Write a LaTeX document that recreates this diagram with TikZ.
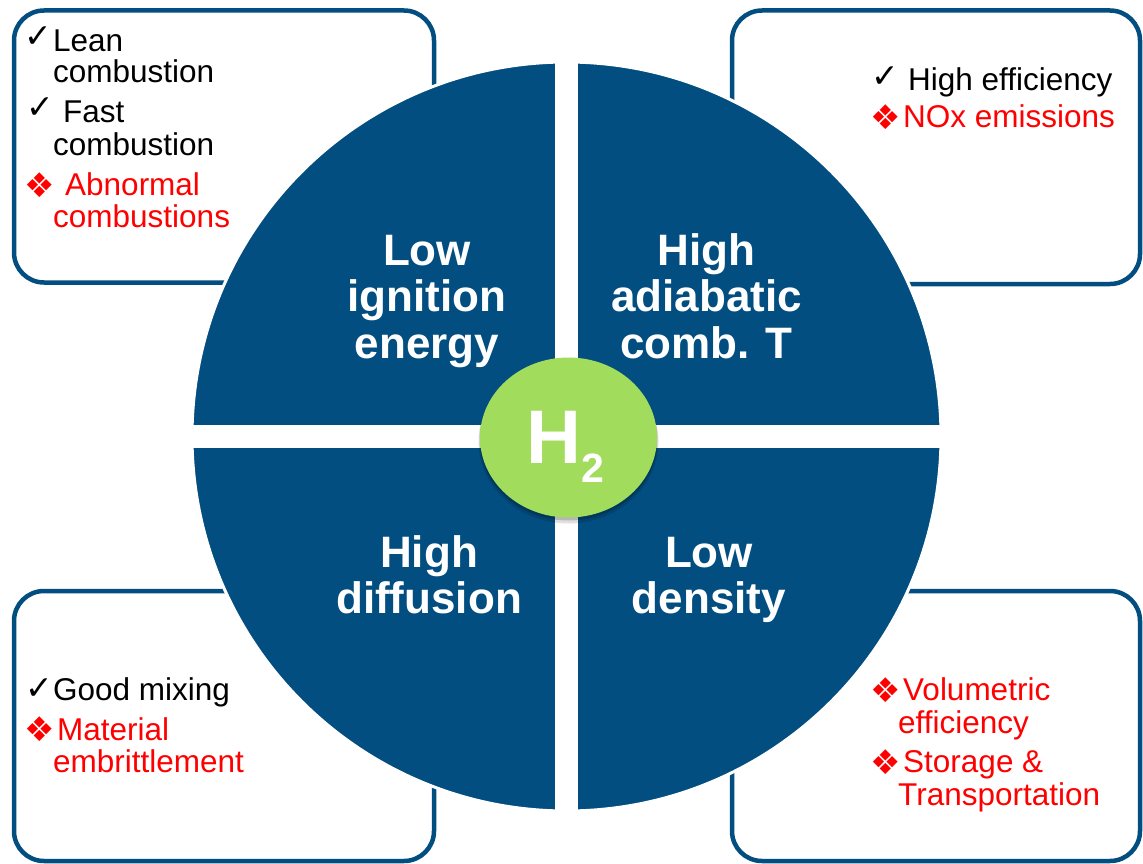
\documentclass[tikz,border=0pt]{standalone}
\usepackage{fontspec}
\setmainfont{Liberation Sans}
\newfontfamily\symfont{DejaVu Sans}

\definecolor{qblue}{RGB}{3,78,128}
\definecolor{badred}{RGB}{255,0,0}
\definecolor{gin}{RGB}{162,220,92}
\definecolor{gmid}{RGB}{150,211,80}
\definecolor{gedge}{RGB}{118,168,58}

% flat green disc with a darker bevelled rim
\pgfdeclareradialshading{hbevel}{\pgfpoint{0bp}{0bp}}{%
  color(0bp)=(gin); color(40bp)=(gin); color(47bp)=(gmid); color(50bp)=(gedge)}

\begin{document}
\begin{tikzpicture}[x=1pt,y=-1pt,
  panel/.style={draw=qblue,line width=4.5pt,rounded corners=30pt,fill=white},
  txtline/.style={anchor=base west,inner sep=0pt,font=\fontsize{31.5}{32}\selectfont},
  pro/.style={txtline,text=black},
  con/.style={txtline,text=badred},
  tick/.style={anchor=base east,inner sep=0pt,text=black,font=\symfont\fontsize{33}{33}\selectfont},
  dia/.style={anchor=base east,inner sep=0pt,text=badred,font=\symfont\fontsize{34}{34}\selectfont},
  quad/.style={anchor=base,inner sep=0pt,text=white,font=\bfseries\fontsize{44}{46.5}\selectfont}]
\useasboundingbox (0,0) rectangle (1143,864);

% four property panels behind the disc
\draw[panel] (14,10.5) rectangle (434,282.5);
\draw[panel] (732,10.5) rectangle (1140,284);
\draw[panel] (14,591) rectangle (434,861);
\draw[panel] (732,591) rectangle (1140,861);

% blue disc split into four quadrants
\fill[qblue,draw=white,line width=3pt] (566.5,436.5) circle (374.5);
\fill[white] (555,55) rectangle (578,818);
\fill[white] (185,425) rectangle (948,448);

% quadrant headings
\node[quad] (qtl) at (427,265) {\begin{tabular}[t]{@{}c@{}}Low\\ignition\\energy\end{tabular}};
\node[quad] (qtr) at (706.5,265) {\begin{tabular}[t]{@{}c@{}}High\\adiabatic\\comb. T\end{tabular}};
\node[quad] (qbl) at (429,567) {\begin{tabular}[t]{@{}c@{}}High\\diffusion\end{tabular}};
\node[quad] (qbr) at (709,567) {\begin{tabular}[t]{@{}c@{}}Low\\density\end{tabular}};

% central hydrogen badge
\fill[black,opacity=0.12] (568.5,441.5) ellipse (90 and 82);
\fill[black,opacity=0.18] (568.5,440) ellipse (89 and 80.5);
\shade[shading=hbevel] (568.5,437.5) ellipse (88.5 and 80);
\node[anchor=base west,inner sep=0pt,text=white,font=\bfseries\fontsize{76}{76}\selectfont]
  (h2) at (526,463) {H\raisebox{-19pt}{\fontsize{41}{41}\selectfont 2}};

% top-left panel
\node[tick] (t1a) at (52,48) {✓};
\node[pro] (t1) at (53,52) {Lean};
\node[pro] (t1b) at (53,83) {combustion};
\node[tick] (t2a) at (54,119) {✓};
\node[pro] (t2) at (63,123) {Fast};
\node[pro] (t2b) at (53,155) {combustion};
\node[dia] (t3a) at (55,197) {❖};
\node[con] (t3) at (65,195) {Abnormal};
\node[con] (t3b) at (53,227) {combustions};

% top-right panel
\node[tick] (r1a) at (899,88) {✓};
\node[pro] (r1) at (908,91) {High efficiency};
\node[dia] (r2a) at (901,130) {❖};
\node[con] (r2) at (903,128) {NOx emissions};

% bottom-left panel
\node[tick] (b1a) at (53,699) {✓};
\node[pro] (b1) at (53,700) {Good mixing};
\node[dia] (b2a) at (55,741) {❖};
\node[con] (b2) at (57,740) {Material};
\node[con] (b2b) at (53,772) {embrittlement};

% bottom-right panel
\node[dia] (d1a) at (901,702) {❖};
\node[con] (d1) at (903,700) {Volumetric};
\node[con] (d1b) at (898,733) {efficiency};
\node[dia] (d2a) at (901,774) {❖};
\node[con] (d2) at (903,772) {Storage \&};
\node[con] (d2b) at (898,805) {Transportation};
\end{tikzpicture}
\end{document}
